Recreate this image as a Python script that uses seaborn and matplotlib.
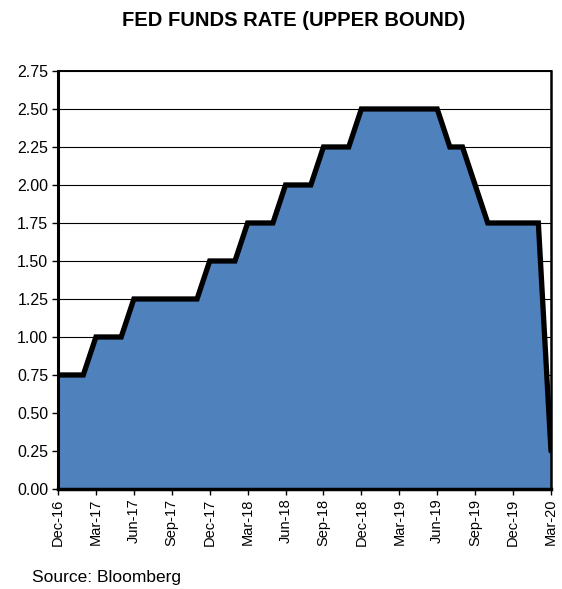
import numpy as np
import pandas as pd
import matplotlib
matplotlib.use('Agg')
import matplotlib.pyplot as plt
import seaborn as sns

# monthly Fed funds upper bound, Dec-16 .. Mar-20
months = pd.date_range('2016-12-01', '2020-03-01', freq='MS')
rates = [0.75, 0.75, 0.75, 1.00, 1.00, 1.00, 1.25, 1.25, 1.25, 1.25,
         1.25, 1.25, 1.50, 1.50, 1.50, 1.75, 1.75, 1.75, 2.00, 2.00,
         2.00, 2.25, 2.25, 2.25, 2.50, 2.50, 2.50, 2.50, 2.50, 2.50,
         2.50, 2.25, 2.25, 2.00, 1.75, 1.75, 1.75, 1.75, 1.75, 0.25]
yticks = [0.00, 0.25, 0.50, 0.75, 1.00, 1.25, 1.50, 1.75, 2.00, 2.25, 2.50, 2.75]

df = pd.DataFrame({'month': months, 'rate': rates})
df['idx'] = np.arange(len(df))
tick_idx = df['idx'][::3]
tick_labels = df['month'][::3].dt.strftime('%b-%y')

sns.set_style('white')
plt.rcParams['font.family'] = ['Liberation Sans', 'DejaVu Sans']
plt.rcParams['text.color'] = 'black'
plt.rcParams['xtick.color'] = 'black'
plt.rcParams['ytick.color'] = 'black'

fig = plt.figure(figsize=(5.62, 5.89), dpi=100)
ax = fig.add_axes([0.1032, 0.1698, 0.8772, 0.7097])

ax.fill_between(df['idx'], df['rate'], 0, color='#4F81BD', zorder=2)
sns.lineplot(data=df, x='idx', y='rate', color='black', linewidth=3.8, ax=ax,
             zorder=3, solid_joinstyle='miter')

ax.set_xlim(0, len(df) - 1)
ax.set_ylim(0, 2.75)
ax.set_yticks(yticks)
ax.set_yticklabels([f'{v:.2f}' for v in yticks], fontsize=11.5)
ax.set_xticks(tick_idx)
ax.set_xticklabels(tick_labels, rotation=90, fontsize=10.5)
ax.set_xlabel('')
ax.set_ylabel('')

ax.yaxis.grid(True, color='black', linewidth=0.8, zorder=1)
ax.set_axisbelow(True)
ax.tick_params(axis='both', which='both', direction='out', length=4, width=1,
               color='black', left=True, bottom=True, pad=3)
for side, lw in [('left', 2.2), ('bottom', 2.5), ('right', 1.8), ('top', 1.4)]:
    ax.spines[side].set_visible(True)
    ax.spines[side].set_color('black')
    ax.spines[side].set_linewidth(lw)
    ax.spines[side].set_zorder(4)

fig.text(0.522, 0.965, 'FED FUNDS RATE (UPPER BOUND)', ha='center', va='center',
         fontsize=14.5, fontweight='bold')
fig.text(0.057, 0.02, 'Source: Bloomberg', ha='left', va='center', fontsize=12.5)

fig.savefig('out.png', dpi=100)
